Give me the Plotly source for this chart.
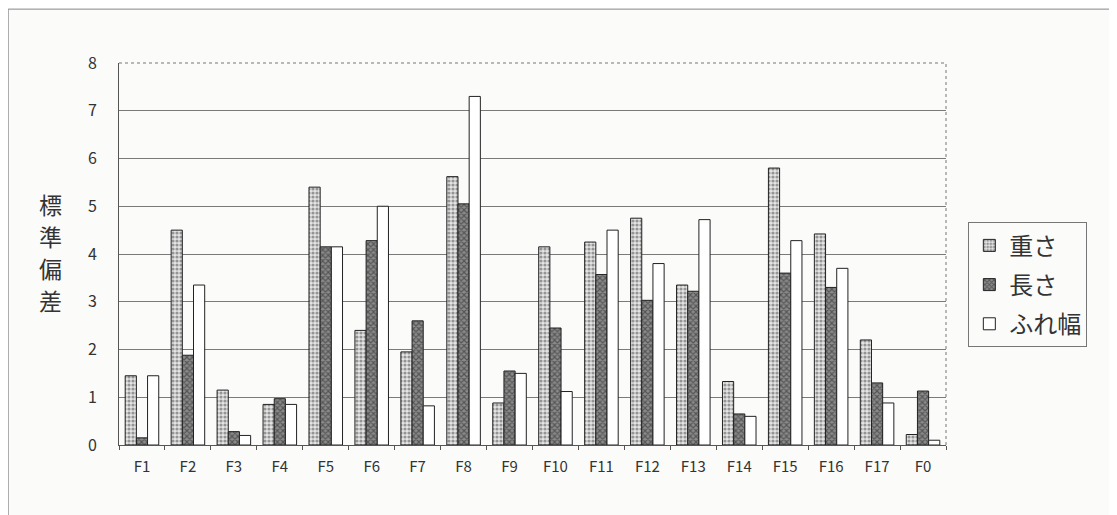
import plotly.graph_objects as go

categories = ["F1", "F2", "F3", "F4", "F5", "F6", "F7", "F8", "F9", "F10",
              "F11", "F12", "F13", "F14", "F15", "F16", "F17", "F0"]
weight = [1.45, 4.5, 1.15, 0.85, 5.4, 2.4, 1.95, 5.62, 0.88, 4.15,
          4.25, 4.75, 3.35, 1.33, 5.8, 4.42, 2.2, 0.22]
length = [0.15, 1.88, 0.28, 0.97, 4.15, 4.28, 2.6, 5.05, 1.55, 2.45,
          3.57, 3.03, 3.22, 0.65, 3.6, 3.3, 1.3, 1.13]
swing = [1.45, 3.35, 0.2, 0.85, 4.15, 5.0, 0.82, 7.3, 1.5, 1.12,
         4.5, 3.8, 4.72, 0.6, 4.28, 3.7, 0.88, 0.1]
series_names = ["重さ", "長さ", "ふれ幅"]
y_ticks = [0, 1, 2, 3, 4, 5, 6, 7, 8]
y_title_chars = ["標", "準", "偏", "差"]

FONT = "Noto Sans CJK JP, Noto Sans, sans-serif"
TXT = "#333333"

fig = go.Figure()
fig.add_trace(go.Bar(
    x=categories, y=weight, name=series_names[0], legendgroup="a",
    marker=dict(color="#e6e6e6", line=dict(color="#222222", width=1),
                pattern=dict(shape=".", fgcolor="#444444", bgcolor="#e4e4e4",
                             size=4, solidity=0.5)),
))
fig.add_trace(go.Bar(
    x=categories, y=length, name=series_names[1], legendgroup="b",
    marker=dict(color="#555555", line=dict(color="#222222", width=1),
                pattern=dict(shape="x", fgcolor="#222222", bgcolor="#8a8a8a",
                             size=4, solidity=0.5)),
))
fig.add_trace(go.Bar(
    x=categories, y=swing, name=series_names[2], legendgroup="c",
    marker=dict(color="#ffffff", line=dict(color="#222222", width=1)),
))

annotations = []
for i, ch in enumerate(y_title_chars):
    annotations.append(dict(text=ch, xref="paper", yref="paper",
                            x=-0.083, y=0.631 - i * 0.0837, showarrow=False,
                            xanchor="center", yanchor="middle",
                            font=dict(size=23, family=FONT, color=TXT)))

fig.update_layout(
    width=1117, height=515,
    barmode="group", bargap=0.27, bargroupgap=0,
    paper_bgcolor="#fbfbfa", plot_bgcolor="#fbfbfa",
    margin=dict(l=111, r=179, t=55, b=78, autoexpand=False),
    font=dict(family=FONT, color=TXT, size=15),
    showlegend=True,
    legend=dict(x=1.027, y=0.583, xanchor="left", yanchor="top",
                bordercolor="#777777", borderwidth=1, bgcolor="rgba(0,0,0,0)",
                font=dict(size=24, family=FONT, color=TXT),
                itemwidth=30, traceorder="grouped", tracegroupgap=5),
    xaxis=dict(showgrid=False, showline=True, linecolor="#555555", linewidth=1,
               ticks="outside", tickson="boundaries", ticklen=4, tickcolor="#555555",
               automargin=False, ticklabelstandoff=8,
               tickfont=dict(size=15, family=FONT, color=TXT)),
    yaxis=dict(range=[0, 8], tickvals=y_ticks, showgrid=True, gridcolor="#7a7a7a",
               gridwidth=1, showline=True, linecolor="#555555", linewidth=1,
               ticks="", ticklabelstandoff=18, automargin=False,
               tickfont=dict(size=16, family=FONT, color=TXT), zeroline=False),
    annotations=annotations,
    shapes=[
        dict(type="line", xref="paper", yref="paper", x0=0, x1=1, y0=1, y1=1,
             line=dict(color="#777777", width=1, dash="dot")),
        dict(type="line", xref="paper", yref="paper", x0=1, x1=1, y0=0, y1=1,
             line=dict(color="#777777", width=1, dash="dot")),
        dict(type="line", xref="paper", yref="paper", x0=-0.134, x1=1.3,
             y0=1.141, y1=1.141, line=dict(color="#888888", width=1)),
        dict(type="line", xref="paper", yref="paper", x0=-0.134, x1=-0.134,
             y0=-0.25, y1=1.141, line=dict(color="#888888", width=1)),
    ],
)

fig.write_html("out.html")
